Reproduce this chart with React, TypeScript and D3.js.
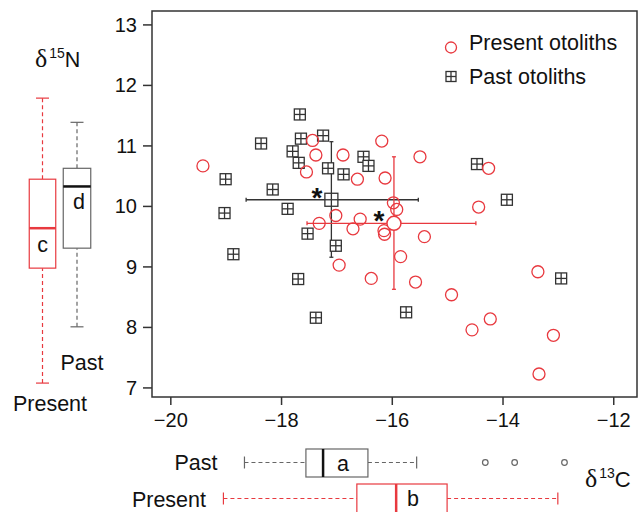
import React from "react";
import * as d3 from "d3";

// δ13C, δ15N of individual otoliths
const presentC = [-19.42, -17.44, -17.38, -17.55, -16.89, -16.63, -16.19, -16.13, -17.32, -17.02, -16.58, -16.71, -16.15, -16.14, -16.96, -16.38, -15.5, -15.98, -15.92, -14.26, -14.44, -15.42, -15.85, -15.58, -14.93, -13.37, -14.23, -14.56, -13.09, -13.35];
const presentN = [10.67, 11.09, 10.85, 10.57, 10.85, 10.45, 11.08, 10.47, 9.72, 9.85, 9.79, 9.63, 9.6, 9.54, 9.03, 8.81, 10.82, 10.06, 9.95, 10.63, 9.99, 9.5, 9.17, 8.75, 8.54, 8.92, 8.14, 7.96, 7.87, 7.23];
const pastC = [-17.67, -17.65, -17.25, -18.37, -17.8, -17.69, -17.16, -16.88, -16.52, -16.43, -19.01, -18.16, -17.89, -19.03, -17.53, -17.02, -18.87, -17.7, -17.38, -14.47, -13.93, -12.95, -15.75];
const pastN = [11.52, 11.12, 11.17, 11.04, 10.91, 10.72, 10.63, 10.53, 10.82, 10.67, 10.45, 10.28, 9.96, 9.89, 9.55, 9.35, 9.21, 8.8, 8.16, 10.7, 10.11, 8.81, 8.25];

// mean ± sd: [meanC, meanN, cLow, cHigh, nLow, nHigh]
const pastMean = [-17.1, 10.11, -18.64, -15.53, 9.16, 11.07];
const presentMean = [-15.97, 9.72, -17.54, -14.49, 8.63, 10.82];

// boxplots: [whiskerLow, q1, median, q3, whiskerHigh]
const boxC_past = [-18.67, -17.56, -17.25, -16.44, -15.56];
const boxC_present = [-19.05, -16.64, -15.93, -15.01, -13.01];
const outC_past = [-14.32, -13.79, -12.89];
const boxN_present = [7.08, 8.98, 9.64, 10.45, 11.79];
const boxN_past = [8.01, 9.31, 10.33, 10.63, 11.39];

const xTicks = [-20, -18, -16, -14, -12];
const yTicks = [7, 8, 9, 10, 11, 12, 13];

const RED = "#e8393f";
const DARK = "#333";
const GREY = "#666";
const FONT = "Liberation Sans, Arial, sans-serif";

const x = d3.scaleLinear().domain([-20.34, -11.58]).range([152, 637]);
const y = d3.scaleLinear().domain([6.85, 13.23]).range([397, 11]);

const Square = ({ cx, cy, s, color }: { cx: number; cy: number; s: number; color: string }) => (
  <g stroke={color} strokeWidth={1.3} fill="white">
    <rect x={cx - s / 2} y={cy - s / 2} width={s} height={s} />
    <line x1={cx} x2={cx} y1={cy - s / 2} y2={cy + s / 2} />
    <line x1={cx - s / 2} x2={cx + s / 2} y1={cy} y2={cy} />
  </g>
);

const ErrBars = ({ m, color }: { m: number[]; color: string }) => (
  <g stroke={color} strokeWidth={1.3}>
    <line x1={x(m[2])} x2={x(m[3])} y1={y(m[1])} y2={y(m[1])} />
    <line x1={x(m[0])} x2={x(m[0])} y1={y(m[4])} y2={y(m[5])} />
    <line x1={x(m[2])} x2={x(m[2])} y1={y(m[1]) - 2} y2={y(m[1]) + 2} />
    <line x1={x(m[3])} x2={x(m[3])} y1={y(m[1]) - 2} y2={y(m[1]) + 2} />
    <line x1={x(m[0]) - 2} x2={x(m[0]) + 2} y1={y(m[4])} y2={y(m[4])} />
    <line x1={x(m[0]) - 2} x2={x(m[0]) + 2} y1={y(m[5])} y2={y(m[5])} />
  </g>
);

// horizontal boxplot along x scale
const HBox = ({ b, cy, color, lineCol, top, bottom }: any) => (
  <g>
    <g stroke={color} strokeWidth={1.2} strokeDasharray="4,3">
      <line x1={x(b[0])} x2={x(b[1])} y1={cy} y2={cy} />
      <line x1={x(b[3])} x2={x(b[4])} y1={cy} y2={cy} />
    </g>
    <g stroke={color} strokeWidth={1.2}>
      <line x1={x(b[0])} x2={x(b[0])} y1={cy - 6} y2={cy + 6} />
      <line x1={x(b[4])} x2={x(b[4])} y1={cy - 6} y2={cy + 6} />
      <rect x={x(b[1])} y={top} width={x(b[3]) - x(b[1])} height={bottom - top} fill="white" />
    </g>
    <line x1={x(b[2])} x2={x(b[2])} y1={top} y2={bottom} stroke={lineCol} strokeWidth={2.5} />
  </g>
);

// vertical boxplot along y scale
const VBox = ({ b, cx, w, color, lineCol }: any) => (
  <g>
    <g stroke={color} strokeWidth={1.2} strokeDasharray="4,3">
      <line x1={cx} x2={cx} y1={y(b[0])} y2={y(b[1])} />
      <line x1={cx} x2={cx} y1={y(b[3])} y2={y(b[4])} />
    </g>
    <g stroke={color} strokeWidth={1.2}>
      <line x1={cx - 6.5} x2={cx + 6.5} y1={y(b[0])} y2={y(b[0])} />
      <line x1={cx - 6.5} x2={cx + 6.5} y1={y(b[4])} y2={y(b[4])} />
      <rect x={cx - w / 2} y={y(b[3])} width={w} height={y(b[1]) - y(b[3])} fill="white" />
    </g>
    <line x1={cx - w / 2} x2={cx + w / 2} y1={y(b[2])} y2={y(b[2])} stroke={lineCol} strokeWidth={2.5} />
  </g>
);

export default function App() {
  return (
    <svg width={643} height={512} style={{ position: "absolute", left: 0, top: 0, background: "white" }} fontFamily={FONT}>
      {/* axes */}
      <rect x={152} y={11} width={485} height={386} fill="none" stroke={DARK} strokeWidth={1.5} />
      {xTicks.map((t) => (
        <g key={"x" + t}>
          <line x1={x(t)} x2={x(t)} y1={397} y2={405} stroke={DARK} strokeWidth={1.5} />
          <text x={x(t)} y={427} fontSize={20} textAnchor="middle" fill="#111">
            {t < 0 ? "\u2212" + Math.abs(t) : t}
          </text>
        </g>
      ))}
      {yTicks.map((t) => (
        <g key={"y" + t}>
          <line x1={143} x2={152} y1={y(t)} y2={y(t)} stroke={DARK} strokeWidth={1.5} />
          <text x={137} y={y(t) + 7} fontSize={20} textAnchor="end" fill="#111">
            {t}
          </text>
        </g>
      ))}

      {/* error bars */}
      <ErrBars m={pastMean} color={DARK} />
      <ErrBars m={presentMean} color={RED} />

      {/* points */}
      {pastC.map((c, i) => (
        <Square key={"p" + i} cx={x(c)} cy={y(pastN[i])} s={11} color={DARK} />
      ))}
      {presentC.map((c, i) => (
        <circle key={"c" + i} cx={x(c)} cy={y(presentN[i])} r={6} fill="none" stroke={RED} strokeWidth={1.3} />
      ))}
      <Square cx={x(pastMean[0])} cy={y(pastMean[1])} s={13} color={DARK} />
      <circle cx={x(presentMean[0])} cy={y(presentMean[1])} r={7} fill="white" stroke={RED} strokeWidth={1.5} />
      <text x={317} y={207} fontSize={28} fontWeight="bold" textAnchor="middle" fill="#111">*</text>
      <text x={379} y={230} fontSize={28} fontWeight="bold" textAnchor="middle" fill="#111">*</text>

      {/* legend */}
      <circle cx={451} cy={47.5} r={5.5} fill="none" stroke={RED} strokeWidth={1.3} />
      <text x={469} y={50} fontSize={21.5} fill="#111">Present otoliths</text>
      <Square cx={451} cy={76.5} s={10} color={DARK} />
      <text x={469} y={84} fontSize={21.5} fill="#111">Past otoliths</text>

      {/* left boxplots (δ15N) */}
      <VBox b={boxN_present} cx={42.5} w={26.5} color={RED} lineCol={RED} />
      <VBox b={boxN_past} cx={77} w={27.5} color={GREY} lineCol="#111" />
      <text x={42.5} y={252} fontSize={21.5} textAnchor="middle" fill="#111">c</text>
      <text x={79} y={209} fontSize={21.5} textAnchor="middle" fill="#111">d</text>
      <text x={35} y={67} fontSize={21.5} fill="#111">
        <tspan fontFamily="Liberation Serif, serif" fontSize={26}>δ</tspan>
        <tspan fontSize={14} dx={2} dy={-9}>15</tspan>
        <tspan dy={9}>N</tspan>
      </text>
      <text x={82} y={370} fontSize={21.5} textAnchor="middle" fill="#111">Past</text>
      <text x={50} y={411} fontSize={21.5} textAnchor="middle" fill="#111">Present</text>

      {/* bottom boxplots (δ13C) */}
      <HBox b={boxC_past} cy={462.5} color={GREY} lineCol="#111" top={449} bottom={477} />
      {outC_past.map((o, i) => (
        <circle key={"o" + i} cx={x(o)} cy={462.5} r={2.8} fill="none" stroke={GREY} strokeWidth={1.2} />
      ))}
      <HBox b={boxC_present} cy={498.5} color={RED} lineCol={RED} top={484} bottom={514} />
      <text x={343} y={471} fontSize={21.5} textAnchor="middle" fill="#111">a</text>
      <text x={413} y={506} fontSize={21.5} textAnchor="middle" fill="#111">b</text>
      <text x={196} y={470} fontSize={21.5} textAnchor="middle" fill="#111">Past</text>
      <text x={206} y={506.5} fontSize={21.5} textAnchor="end" fill="#111">Present</text>
      <text x={585} y={487} fontSize={22} fill="#111">
        <tspan fontFamily="Liberation Serif, serif" fontSize={26}>δ</tspan>
        <tspan fontSize={14} dx={2} dy={-9}>13</tspan>
        <tspan dy={9}>C</tspan>
      </text>
    </svg>
  );
}
